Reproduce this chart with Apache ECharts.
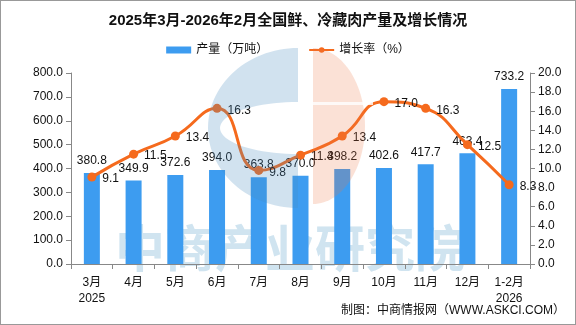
<!DOCTYPE html>
<html><head><meta charset="utf-8">
<script src="https://cdn.jsdelivr.net/npm/echarts@6/dist/echarts.min.js"></script>
<style>html,body{margin:0;padding:0;background:#fff}#c{width:576px;height:325px;box-sizing:border-box;border:1px solid #999}</style>
</head><body><div id="c"></div>
<script>
const categories = ['3月\n2025','4月','5月','6月','7月','8月','9月','10月','11月','12月','1-2月\n2026'];
const production = [380.8, 349.9, 372.6, 394.0, 363.8, 370.0, 398.2, 402.6, 417.7, 463.4, 733.2];
const growth = [9.1, 11.5, 13.4, 16.3, 9.8, 11.4, 13.4, 17.0, 16.3, 12.5, 8.3];
const leftTicks = [0, 800, 100];
const rightTicks = [0, 20, 2];

// decorative watermark logo outlines
function arcPts(cx, cy, rx, ry, a0, a1, n) {
  const pts = [];
  for (let i = 0; i <= n; i++) {
    const a = a0 + (a1 - a0) * i / n;
    pts.push([cx + rx * Math.cos(a), cy + ry * Math.sin(a)]);
  }
  return pts;
}
const blueLogo = arcPts(297,127,90,80,-Math.PI/2,-Math.PI*1.5,60).concat(arcPts(297,127,78,26,Math.PI/2,Math.PI*1.5,40));
const pinkLogo = arcPts(312,125,52,78,-Math.PI/2,Math.PI/2,60);

const FONT = '"Liberation Sans","Noto Sans CJK SC",sans-serif';
const chart = echarts.init(document.getElementById('c'), null, {renderer:'canvas'});
chart.setOption({
  animation:false,
  textStyle:{fontFamily:FONT},
  title:{text:'2025年3月-2026年2月全国鲜、冷藏肉产量及增长情况',left:'center',top:7,
    textStyle:{fontSize:15,fontWeight:'bold',color:'#111',fontFamily:FONT}},
  graphic:[
    {type:'polygon',z:100,silent:true,shape:{points:blueLogo},style:{fill:'rgba(70,140,190,0.25)'}},
    {type:'polygon',z:100,silent:true,shape:{points:pinkLogo},style:{fill:'rgba(235,120,70,0.22)'}},
    {type:'rect',z:101,silent:true,shape:{x:312,y:101,width:60,height:3},style:{fill:'rgba(255,255,255,0.8)'}},
    {type:'text',z:-8,left:114,top:222,style:{text:'中商产业研究院',fontSize:50,fontWeight:'bold',fill:'rgba(170,205,228,0.55)',fontFamily:'"Noto Sans CJK SC",sans-serif'}},
    {type:'text',right:10,top:304,style:{text:'制图：中商情报网（WWW.ASKCI.COM）',fontSize:12,fill:'#111',fontFamily:FONT}}
  ],
  legend:{top:38,left:'center',itemGap:40,itemWidth:25,itemHeight:7,
    textStyle:{fontSize:12,color:'#111'},
    data:[{name:'产量（万吨）',icon:'rect'},{name:'增长率（%）'}]},
  grid:{left:70,right:45,top:72,bottom:60,containLabel:false},
  xAxis:{type:'category',data:categories,
    axisLine:{lineStyle:{color:'#888'}},
    axisTick:{show:true,alignWithLabel:false,lineStyle:{color:'#888'}},
    axisLabel:{color:'#111',fontSize:12,margin:11,lineHeight:16,interval:0}},
  yAxis:[
    {type:'value',min:leftTicks[0],max:leftTicks[1],interval:leftTicks[2],
     axisLine:{show:true,lineStyle:{color:'#888'}},axisTick:{show:true,lineStyle:{color:'#888'}},
     splitLine:{show:false},axisLabel:{color:'#111',fontSize:12,formatter:v=>v.toFixed(1)}},
    {type:'value',min:rightTicks[0],max:rightTicks[1],interval:rightTicks[2],
     axisLine:{show:true,lineStyle:{color:'#888'}},axisTick:{show:true,lineStyle:{color:'#888'}},
     splitLine:{show:false},axisLabel:{color:'#111',fontSize:12,formatter:v=>v.toFixed(1)}}
  ],
  series:[
    {name:'产量（万吨）',type:'bar',data:production,barWidth:16,itemStyle:{color:'#3d9cf0'},
     label:{show:true,position:'top',color:'#111',fontSize:12,distance:6,formatter:p=>p.value.toFixed(1)}},
    {name:'增长率（%）',type:'line',yAxisIndex:1,data:growth,smooth:true,symbol:'circle',symbolSize:9,
     itemStyle:{color:'#f56a1d'},lineStyle:{color:'#f56a1d',width:3},
     label:{show:true,position:'right',color:'#111',fontSize:12,distance:6,offset:[0,2],formatter:p=>p.value.toFixed(1)}}
  ]
});
</script></body></html>
